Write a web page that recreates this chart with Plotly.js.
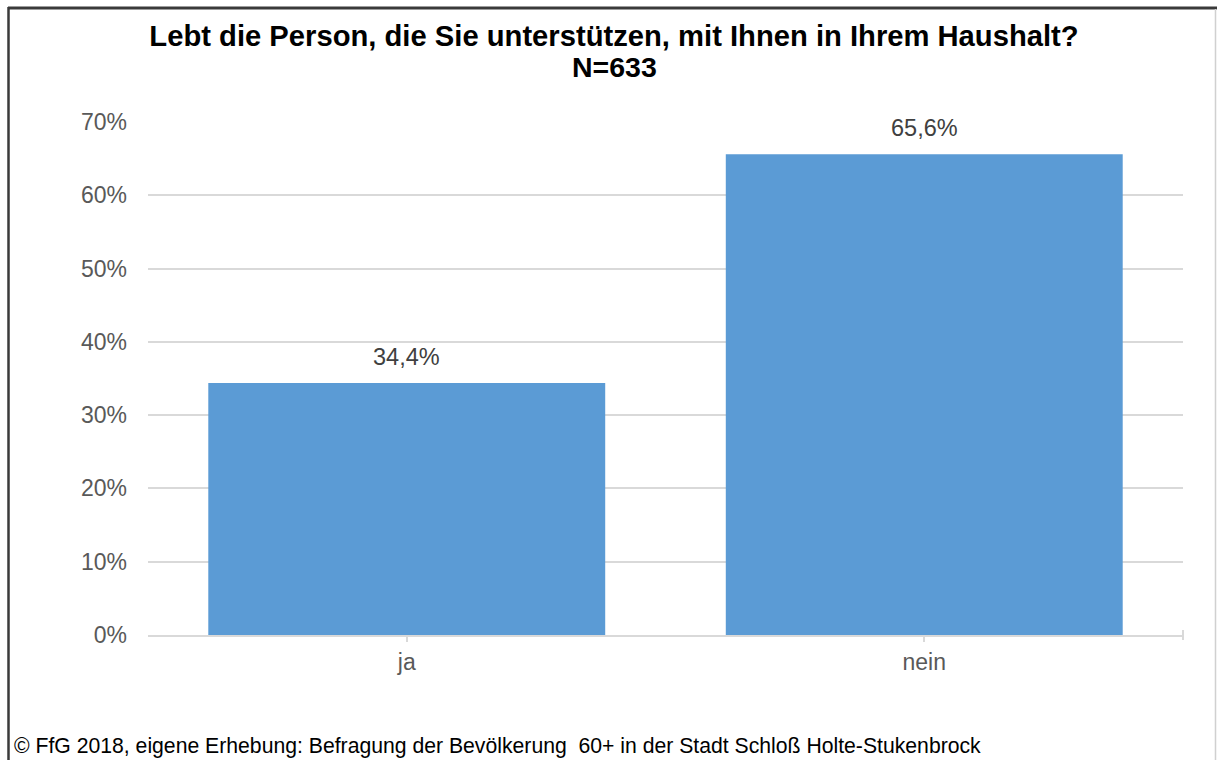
<!DOCTYPE html>
<html><head><meta charset="utf-8">
<script src="https://cdn.plot.ly/plotly-3.0.1.min.js"></script>
<style>html,body{margin:0;padding:0;background:#fff;}#chart{width:1217px;height:760px;}</style>
</head><body><div id="chart"></div>
<script>
const categories = ["ja", "nein"];
const values = [0.344, 0.656];
const labels = ["34,4%", "65,6%"];
const titleLine1 = "<b>Lebt die Person, die Sie unterstützen, mit Ihnen in Ihrem Haushalt?</b>";
const titleLine2 = "<b>N=633</b>";
const footerText = "© FfG 2018, eigene Erhebung: Befragung der Bevölkerung  60+ in der Stadt Schloß Holte-Stukenbrock";

const W = 1217, H = 760, L = 148, R = 34, T = 122, B = 125;
const pw = W - L - R, ph = H - T - B;
const px = x => (x - L) / pw;
const py = y => (H - B - y) / ph;

const font = "Arial, 'Liberation Sans', sans-serif";

const trace = {
  type: "bar", x: categories, y: values,
  marker: {color: "#5B9BD5"},
  width: 0.767, hoverinfo: "skip"
};

const annotations = categories.map((c, i) => ({
  x: c, y: values[i], xref: "x", yref: "y", text: labels[i],
  showarrow: false, yanchor: "bottom", yshift: 11,
  font: {family: font, size: 23.5, color: "#404040"}
}));
annotations.push({
  xref: "paper", yref: "paper", x: px(12), y: py(746), xanchor: "left", yanchor: "middle",
  text: footerText, showarrow: false, font: {family: font, size: 21.2, color: "#000"}
});
annotations.push({
  xref: "paper", yref: "paper", x: px(614), y: py(67), xanchor: "center", yanchor: "middle",
  text: titleLine2, showarrow: false, font: {family: font, size: 28.5, color: "#000"}
});

const layout = {
  width: W, height: H,
  margin: {l: L, r: R, t: T, b: B},
  paper_bgcolor: "#fff", plot_bgcolor: "#fff",
  separators: ",.",
  showlegend: false,
  title: {text: titleLine1, x: 614 / W, xref: "container", xanchor: "center", y: 1 - 36/H, yref: "container", yanchor: "middle",
          font: {family: font, size: 29.2, color: "#000"}},
  xaxis: {
    type: "category", range: [-0.5, 1.5], showgrid: false, zeroline: false,
    showline: true, linecolor: "#d9d9d9", linewidth: 2,
    ticks: "outside", ticklen: 5, tickcolor: "#d9d9d9", tickwidth: 2,
    tickfont: {family: font, size: 23, color: "#595959"}, ticklabelstandoff: 0
  },
  yaxis: {
    range: [0, 0.7], tickvals: [0, 0.1, 0.2, 0.3, 0.4, 0.5, 0.6, 0.7], tickformat: ".0%",
    showgrid: true, gridcolor: "#d9d9d9", gridwidth: 2, zeroline: false, showline: false,
    ticks: "", tickfont: {family: font, size: 23, color: "#595959"}, ticklabelstandoff: 20
  },
  annotations: annotations,
  shapes: [
    {type: "line", xref: "paper", yref: "paper", x0: px(8), x1: px(1217), y0: py(8), y1: py(8),
     line: {color: "#3a3a3a", width: 3}},
    {type: "line", xref: "paper", yref: "paper", x0: px(8.5), x1: px(8.5), y0: py(7), y1: py(760),
     line: {color: "#3a3a3a", width: 2.5}},
    {type: "line", xref: "paper", yref: "paper", x0: px(1215.5), x1: px(1215.5), y0: py(9), y1: py(760),
     line: {color: "#d0d0d0", width: 1.5}},
    {type: "line", xref: "paper", yref: "paper", x0: 1, x1: 1, y0: py(630), y1: py(640),
     line: {color: "#d9d9d9", width: 2}}
  ]
};

Plotly.newPlot("chart", [trace], layout, {displayModeBar: false, staticPlot: true});
</script></body></html>
